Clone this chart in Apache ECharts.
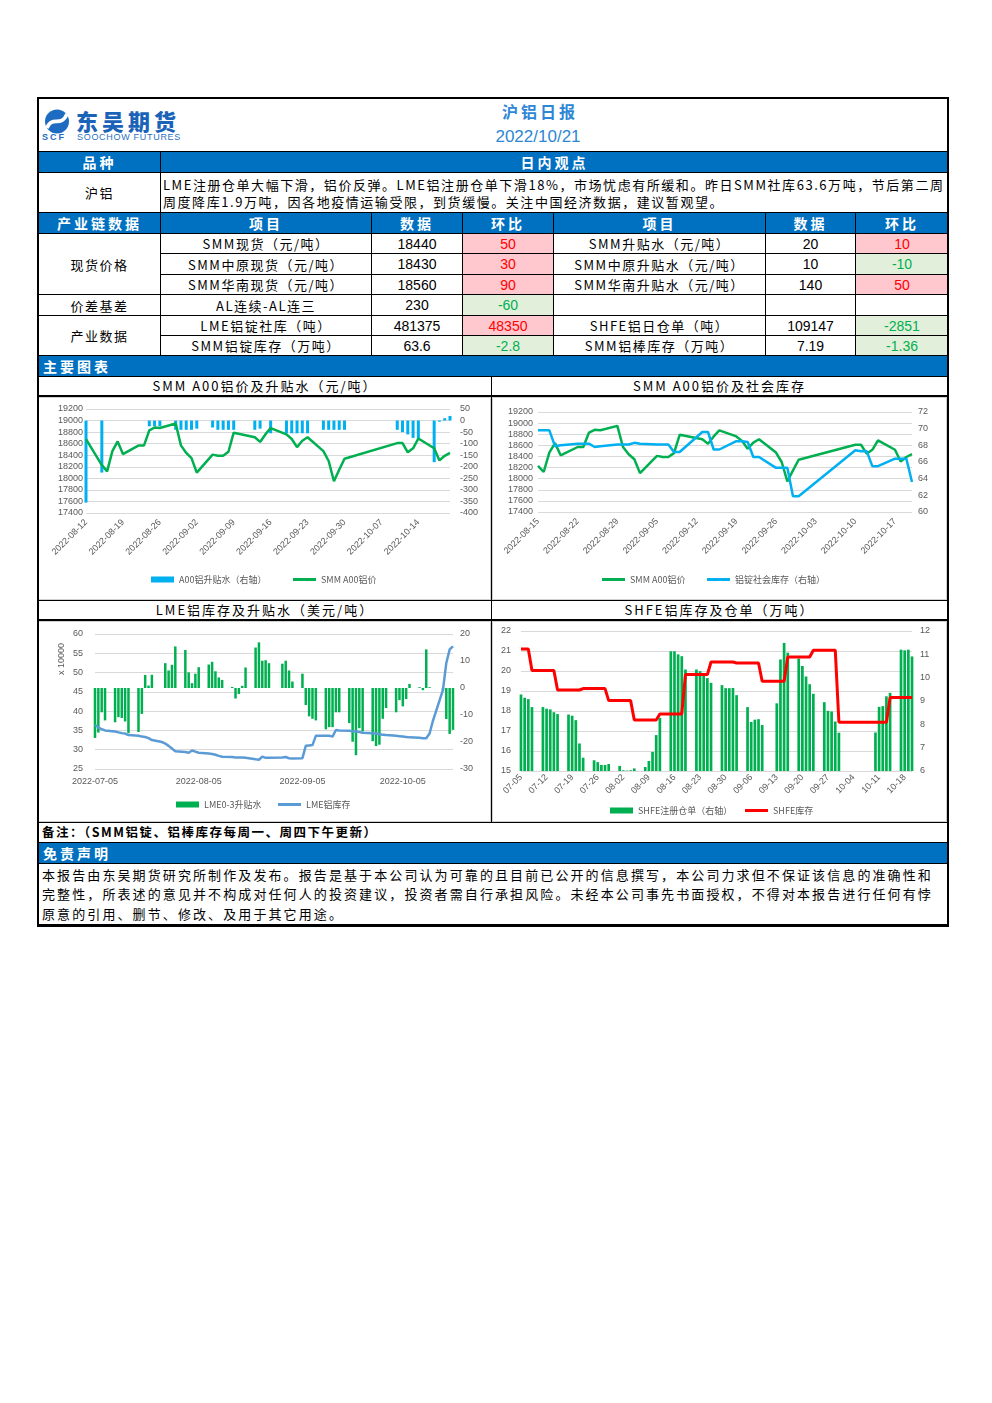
<!DOCTYPE html>
<html>
<head>
<meta charset="utf-8">
<title>沪铝日报</title>
<script src="https://cdn.jsdelivr.net/npm/echarts@6/dist/echarts.min.js"></script>
<style>
body { margin: 0; background: #fff; font-family: "Noto Sans CJK SC", sans-serif; }
#page { position: relative; width: 992px; height: 1403px; }
table { position: absolute; left: 38px; width: 910px; border-collapse: collapse; table-layout: fixed; }
td { border: 1px solid #000; padding: 0; text-align: center; font-size: 13px; letter-spacing: 1.5px;
     white-space: nowrap; overflow: hidden; line-height: 1; color: #000; }
td.hd { background: #0070c0; color: #fff; font-weight: 700; font-size: 14px; letter-spacing: 3px; }
td.num { font-family: "Liberation Sans Narrow", "Liberation Sans", sans-serif; font-size: 14px; letter-spacing: 0; }
td.up { background: #ffc7ce; color: #ff0000; }
td.dn { background: #e2efda; color: #00b050; }
.abs { position: absolute; white-space: nowrap; }
.ctitle { position: absolute; box-sizing: border-box; height: 21px; border: 1px solid #000; border-bottom-width: 2px;
          text-align: center; font-size: 13px; letter-spacing: 2px; line-height: 18px; background: #fff; }
.chart { position: absolute; box-sizing: border-box; border: 1px solid #d0d0d0; }
</style>
</head>
<body>
<div id="page">

<table style="top:98px">
  <colgroup><col style="width:122px"><col style="width:211px"><col style="width:91px"><col style="width:91px"><col style="width:212px"><col style="width:90px"><col style="width:93px"></colgroup>
  <tr style="height:53px"><td colspan="7"></td></tr>
  <tr style="height:21px"><td class="hd">品种</td><td class="hd" colspan="6">日内观点</td></tr>
  <tr style="height:40px"><td>沪铝</td>
    <td colspan="6" style="text-align:left;padding-left:2px;letter-spacing:1.55px;line-height:17px;">LME注册仓单大幅下滑，铝价反弹。LME铝注册仓单下滑18%，市场忧虑有所缓和。昨日SMM社库63.6万吨，节后第二周<br>周度降库1.9万吨，因各地疫情运输受限，到货缓慢。关注中国经济数据，建议暂观望。</td></tr>
  <tr style="height:21px"><td class="hd">产业链数据</td><td class="hd">项目</td><td class="hd">数据</td><td class="hd">环比</td><td class="hd">项目</td><td class="hd">数据</td><td class="hd">环比</td></tr>
  <tr style="height:20px"><td rowspan="3">现货价格</td><td>SMM现货（元/吨）</td><td class="num">18440</td><td class="num up">50</td><td>SMM升贴水（元/吨）</td><td class="num">20</td><td class="num up">10</td></tr>
  <tr style="height:21px"><td>SMM中原现货（元/吨）</td><td class="num">18430</td><td class="num up">30</td><td>SMM中原升贴水（元/吨）</td><td class="num">10</td><td class="num dn">-10</td></tr>
  <tr style="height:20px"><td>SMM华南现货（元/吨）</td><td class="num">18560</td><td class="num up">90</td><td>SMM华南升贴水（元/吨）</td><td class="num">140</td><td class="num up">50</td></tr>
  <tr style="height:21px"><td>价差基差</td><td>AL连续-AL连三</td><td class="num">230</td><td class="num dn">-60</td><td></td><td></td><td></td></tr>
  <tr style="height:20px"><td rowspan="2">产业数据</td><td>LME铝锭社库（吨）</td><td class="num">481375</td><td class="num up">48350</td><td>SHFE铝日仓单（吨）</td><td class="num">109147</td><td class="num dn">-2851</td></tr>
  <tr style="height:20px"><td>SMM铝锭库存（万吨）</td><td class="num">63.6</td><td class="num dn">-2.8</td><td>SMM铝棒库存（万吨）</td><td class="num">7.19</td><td class="num dn">-1.36</td></tr>
  <tr style="height:21px"><td class="hd" colspan="7" style="text-align:left;padding-left:4px;">主要图表</td></tr>
</table>

<!-- header logo and title -->
<svg class="abs" style="left:42px;top:109px" width="32" height="25" viewBox="0 0 32 25">
  <circle cx="15" cy="12.5" r="12" fill="#1d6cc2"/>
  <path d="M5 19 C10 6, 19 19, 25 5" stroke="#fff" stroke-width="3.6" fill="none"/>
</svg>
<div class="abs" style="left:42px;top:132px;font:bold 9px 'Liberation Sans';color:#1d6cc2;letter-spacing:2px;">SCF</div>
<div class="abs" style="left:76px;top:107px;font-size:22px;font-weight:900;letter-spacing:4px;color:#1b63b8;line-height:26px;">东吴期货</div>
<div class="abs" style="left:77px;top:132px;font:9px 'Liberation Sans';letter-spacing:0.7px;color:#2a72c2;">SOOCHOW FUTURES</div>
<div class="abs" style="left:490px;width:100px;text-align:center;top:100px;font-size:16px;font-weight:700;letter-spacing:3px;color:#2e86d6;line-height:22px;">沪铝日报</div>
<div class="abs" style="left:488px;width:100px;text-align:center;top:127px;font:17px 'Liberation Sans';color:#2e86d6;line-height:20px;">2022/10/21</div>

<!-- chart frames -->
<div class="ctitle" style="left:38px;top:376px;width:454px;">SMM A00铝价及升贴水（元/吨）</div>
<div class="ctitle" style="left:491px;top:376px;width:457px;">SMM A00铝价及社会库存</div>
<div id="c1" class="chart" style="left:38px;top:397px;width:453px;height:203px;"></div>
<div id="c2" class="chart" style="left:492px;top:397px;width:455px;height:203px;"></div>
<div class="ctitle" style="left:38px;top:600px;width:454px;">LME铝库存及升贴水（美元/吨）</div>
<div class="ctitle" style="left:491px;top:600px;width:457px;">SHFE铝库存及仓单（万吨）</div>
<div id="c3" class="chart" style="left:38px;top:621px;width:453px;height:201px;"></div>
<div id="c4" class="chart" style="left:492px;top:621px;width:455px;height:201px;"></div>
<div class="abs" style="left:491px;top:376px;width:1px;height:446px;background:#000;"></div>

<table style="top:822px">
  <colgroup><col style="width:910px"></colgroup>
  <tr style="height:20px"><td style="text-align:left;padding-left:3px;font-weight:700;font-size:12.5px;letter-spacing:1.5px;">备注：（SMM铝锭、铝棒库存每周一、周四下午更新）</td></tr>
  <tr style="height:21px"><td class="hd" style="text-align:left;padding-left:4px;">免责声明</td></tr>
  <tr style="height:61px"><td style="text-align:left;padding-left:3px;letter-spacing:2.1px;line-height:19.5px;">本报告由东吴期货研究所制作及发布。报告是基于本公司认为可靠的且目前已公开的信息撰写，本公司力求但不保证该信息的准确性和<br>完整性，所表述的意见并不构成对任何人的投资建议，投资者需自行承担风险。未经本公司事先书面授权，不得对本报告进行任何有悖<br>原意的引用、删节、修改、及用于其它用途。</td></tr>
</table>
<div class="abs" style="left:37px;top:97px;width:908px;height:826px;border:2px solid #000;"></div>

</div>
<script>
// ---- data (year 2022) ----
var smmDates = ['08-12','08-15','08-16','08-17','08-18','08-19','08-22','08-23','08-24','08-25','08-26',
  '08-29','08-30','08-31','09-01','09-02','09-05','09-06','09-07','09-08','09-09','09-13','09-14','09-15','09-16',
  '09-19','09-20','09-21','09-22','09-23','09-26','09-27','09-28','09-29','09-30','10-10','10-11','10-12','10-13','10-14',
  '10-17','10-18','10-19','10-20'];
var a00Price = [18680,18230,18120,18470,18640,18420,18570,18570,18830,18880,18870,
  18950,18570,18440,18350,18100,18410,18390,18390,18460,18790,18710,18630,18760,18870,
  18760,18680,18540,18650,18710,18470,18300,17950,18150,18340,18610,18610,18450,18520,18690,
  18520,18310,18390,18440];
var a00Premium = [-355,-225,0,0,0,0,0,0,-25,-25,-25,
  -40,-40,-40,-40,-35,-30,-40,-40,-40,-40,-40,-35,0,-55,
  -55,-55,-55,-55,-55,-40,-40,-40,-40,-40,-40,-50,-60,-75,-80,
  -180,-5,10,20];
var stockDates = smmDates.slice(1);
var stockPrice = a00Price.slice(1);
var socialStock = [69.8,69.8,69.8,67.9,68.0,68.2,68.2,68.2,67.8,67.9,
  68.1,68.1,68.1,68.3,68.2,68.1,68.1,68.1,67.2,67.2,69.6,69.6,67.5,67.5,
  68.5,68.5,68.4,66.6,66.6,65.3,65.3,65.3,61.9,61.9,67.4,67.3,67.3,65.5,65.5,
  66.4,66.4,66.4,63.6];

var lmeDates = ['07-05','07-06','07-07','07-08','07-11','07-12','07-13','07-14','07-15',
  '07-18','07-19','07-20','07-21','07-22','07-25','07-26','07-27','07-28','07-29',
  '08-01','08-02','08-03','08-04','08-05','08-08','08-09','08-10','08-11','08-12',
  '08-15','08-16','08-17','08-18','08-19','08-22','08-23','08-24','08-25','08-26',
  '08-30','08-31','09-01','09-02','09-05','09-06','09-07','09-08','09-09',
  '09-12','09-13','09-14','09-15','09-16','09-19','09-20','09-21','09-22','09-23',
  '09-26','09-27','09-28','09-29','09-30','10-03','10-04','10-05','10-06','10-07',
  '10-10','10-11','10-12','10-13','10-14','10-17','10-18','10-19','10-20'];
var lmeSpread = [-18.5,-16.5,-9.0,-12.0,-12.7,-10.8,-11.1,-12.4,-16.7,
  -16.3,-9.6,4.8,0.9,4.9,null,9.2,6.5,8.6,15.4,
  14.1,5.8,1.8,5.3,7.7,8.7,9.7,6.2,3.9,3.0,
  0.4,-3.9,-2.2,0.8,7.6,15.0,16.9,10.1,10.3,9.2,
  9.0,10.1,6.5,2.4,5.3,-6.3,-10.5,-11.4,-12.0,
  -15.3,-14.5,-14.5,-9.0,-9.0,-13.0,-19.9,-24.9,-14.9,-16.1,
  -19.7,-21.5,-21.0,-11.4,-7.4,-9.0,-4.5,-6.8,-4.1,1.5,
  0.3,-0.8,14.3,0.3,0,-0.8,-11.5,-17.0,-15.5];
var lmeStock = [36.4,35.8,35.3,35.0,34.7,34.5,34.3,34.2,33.8,
  33.6,33.4,33.3,33.0,32.5,32.0,31.6,31.0,30.3,29.6,
  29.4,29.2,29.8,29.5,29.2,29.0,28.9,28.7,28.4,28.2,
  28.1,28.0,28.0,28.0,27.9,27.5,27.4,28.2,27.9,27.9,
  28.0,28.1,27.8,27.7,27.8,31.0,31.1,31.2,33.6,
  33.6,33.6,33.4,35.1,35.0,34.9,34.8,34.7,34.6,34.4,
  34.3,34.2,34.0,33.9,33.8,33.6,33.5,33.4,33.3,33.2,
  33.1,33.0,33.0,34.2,37.5,45.5,52.5,56.0,56.8];

var shfeDates = ['07-05','07-06','07-07','07-08','07-11','07-12','07-13','07-14','07-15',
  '07-18','07-19','07-20','07-21','07-22','07-25','07-26','07-27','07-28','07-29',
  '08-01','08-02','08-03','08-04','08-05','08-08','08-09','08-10','08-11','08-12',
  '08-15','08-16','08-17','08-18','08-19','08-22','08-23','08-24','08-25','08-26',
  '08-29','08-30','08-31','09-01','09-02','09-05','09-06','09-07','09-08','09-09',
  '09-13','09-14','09-15','09-16','09-19','09-20','09-21','09-22','09-23',
  '09-26','09-27','09-28','09-29','09-30','10-10','10-11','10-12','10-13','10-14',
  '10-17','10-18','10-19','10-20'];
var shfeWarrant = [9.28,9.14,9.08,8.74,8.74,8.67,8.64,8.52,8.44,
  8.42,8.37,8.18,7.18,6.57,6.46,6.38,6.26,6.26,6.30,
  6.22,6.03,6.02,6.03,6.11,6.17,6.43,6.82,7.54,8.28,
  11.13,11.13,11.0,10.92,10.35,10.35,10.28,10.15,9.98,9.78,
  9.68,9.55,9.55,9.56,9.25,8.74,8.1,8.2,8.22,7.97,
  8.9,10.78,11.49,11.07,10.82,10.5,10.05,9.72,9.31,
  8.95,8.58,8.55,8.12,7.64,7.65,8.75,8.78,9.2,9.35,
  11.2,11.17,11.2,10.91];
var shfeStock = [21.1,21.1,21.1,20.03,20.03,20.03,20.03,20.03,19.05,
  19.05,19.05,19.05,19.05,19.12,19.12,19.12,19.12,19.12,18.52,
  18.52,18.52,18.52,18.52,17.55,17.55,17.55,17.55,17.55,17.85,
  17.85,17.85,17.85,17.85,19.82,19.82,19.82,19.82,19.82,20.45,
  20.45,20.45,20.45,20.45,20.40,20.40,20.40,20.40,20.40,19.49,
  19.49,19.49,19.49,20.70,20.70,20.70,20.70,20.70,21.04,
  21.04,21.04,21.04,21.04,17.44,17.44,17.44,17.44,17.44,18.67,
  18.67,18.67,18.67,18.67];

// ---- helpers ----
var YEAR = '2022-';
function calendar(first, last) {
  var out = [], t = Date.parse(YEAR + first + 'T00:00:00Z'), end = Date.parse(YEAR + last + 'T00:00:00Z');
  for (; t <= end; t += 864e5) out.push(new Date(t).toISOString().slice(0, 10));
  return out;
}
function onCalendar(days, dates, values) {
  var map = {};
  dates.forEach(function (d, i) { map[YEAR + d] = values[i]; });
  return days.map(function (d) { return d in map ? map[d] : null; });
}
var grey = '#595959';
var axisText = { fontSize: 9, color: grey, fontFamily: 'Liberation Sans' };
function yAxis(min, max, step, margin, grid) {
  return {
    type: 'value', min: min, max: max, interval: step,
    axisLine: { show: false }, axisTick: { show: false },
    axisLabel: Object.assign({ margin: margin, formatter: function (v) { return String(v); } }, axisText),
    splitLine: { show: grid, lineStyle: { color: '#d9d9d9', width: 1 } }
  };
}
function xAxis(days, label) {
  return {
    type: 'category', data: days, boundaryGap: false,
    axisLine: { show: false }, axisTick: { show: false },
    axisLabel: Object.assign({}, axisText, label)
  };
}
function legend(name, left, top, h) {
  return {
    data: [name], left: left, top: top, padding: 0, itemWidth: 23, itemHeight: h, icon: 'rect',
    selectedMode: false, textStyle: { fontSize: 9, color: grey, fontFamily: 'Noto Sans CJK SC' }
  };
}
function lineSeries(name, color, data, axis) {
  return {
    name: name, type: 'line', yAxisIndex: axis, data: data, showSymbol: false, connectNulls: true,
    lineStyle: { color: color, width: 2.5 }, itemStyle: { color: color }
  };
}
function barSeries(name, color, data, axis, w) {
  return { name: name, type: 'bar', yAxisIndex: axis, data: data, barWidth: w, itemStyle: { color: color } };
}

// ---- chart 1: SMM A00 price and premium ----
var days1 = calendar('08-12', '10-20');
echarts.init(document.getElementById('c1')).setOption({
  animation: false,
  grid: { left: 47, right: 40, top: 11, bottom: 86 },
  legend: [legend('A00铝升贴水（右轴）', 112, 177, 6), legend('SMM A00铝价', 254, 177, 3)],
  xAxis: xAxis(days1, { interval: 6, rotate: 45, margin: 8 }),
  yAxis: [yAxis(17400, 19200, 200, 3, true), yAxis(-400, 50, 50, 10, false)],
  series: [
    barSeries('A00铝升贴水（右轴）', '#00b0f0', onCalendar(days1, smmDates, a00Premium), 1, 3),
    lineSeries('SMM A00铝价', '#00b050', onCalendar(days1, smmDates, a00Price), 0)
  ]
});

// ---- chart 2: SMM A00 price and social stock ----
var days2 = calendar('08-15', '10-20');
echarts.init(document.getElementById('c2')).setOption({
  animation: false,
  grid: { left: 45, right: 34, top: 14, bottom: 87 },
  legend: [legend('SMM A00铝价', 109, 177, 3), legend('铝锭社会库存（右轴）', 214, 177, 3)],
  xAxis: xAxis(days2, { interval: 6, rotate: 45, margin: 8 }),
  yAxis: [yAxis(17400, 19200, 200, 5, true), yAxis(60, 72, 2, 6, false)],
  series: [
    lineSeries('SMM A00铝价', '#00b050', onCalendar(days2, stockDates, stockPrice), 0),
    lineSeries('铝锭社会库存（右轴）', '#00b0f0', onCalendar(days2, stockDates, socialStock), 1)
  ]
});

// ---- chart 3: LME stock and 0-3 spread ----
var days3 = calendar('07-05', '10-20');
echarts.init(document.getElementById('c3')).setOption({
  animation: false,
  grid: { left: 56, right: 37, top: 12, bottom: 52 },
  legend: [legend('LME0-3升贴水', 137, 178, 6), legend('LME铝库存', 239, 178, 3)],
  graphic: [{ type: 'text', x: 23, y: 37, rotation: Math.PI / 2,
    style: { text: 'x 10000', fill: grey, fontSize: 9, fontFamily: 'Liberation Sans', align: 'center', verticalAlign: 'middle' } }],
  xAxis: xAxis(days3, { margin: 8, interval: function (i, v) { return v.slice(8) === '05'; } }),
  yAxis: [yAxis(25, 60, 5, 12, true), yAxis(-30, 20, 10, 7, false)],
  series: [
    barSeries('LME0-3升贴水', '#00b050', onCalendar(days3, lmeDates, lmeSpread), 1, 2.5),
    lineSeries('LME铝库存', '#5b9bd5', onCalendar(days3, lmeDates, lmeStock), 0)
  ]
});

// ---- chart 4: SHFE stock and warrants ----
var days4 = calendar('07-05', '10-20');
echarts.init(document.getElementById('c4')).setOption({
  animation: false,
  grid: { left: 28, right: 34, top: 9, bottom: 50 },
  legend: [legend('SHFE注册仓单（右轴）', 117, 184, 6), legend('SHFE库存', 252, 184, 3)],
  xAxis: xAxis(days4, { interval: 6, rotate: 45, margin: 5, formatter: function (v) { return v.slice(5); } }),
  yAxis: [yAxis(15, 22, 1, 10, true), yAxis(6, 12, 1, 8, false)],
  series: [
    barSeries('SHFE注册仓单（右轴）', '#00b050', onCalendar(days4, shfeDates, shfeWarrant), 1, 2.7),
    Object.assign(lineSeries('SHFE库存', '#ff0000', onCalendar(days4, shfeDates, shfeStock), 0), { lineStyle: { color: '#ff0000', width: 3 } })
  ]
});
</script>
</body>
</html>
